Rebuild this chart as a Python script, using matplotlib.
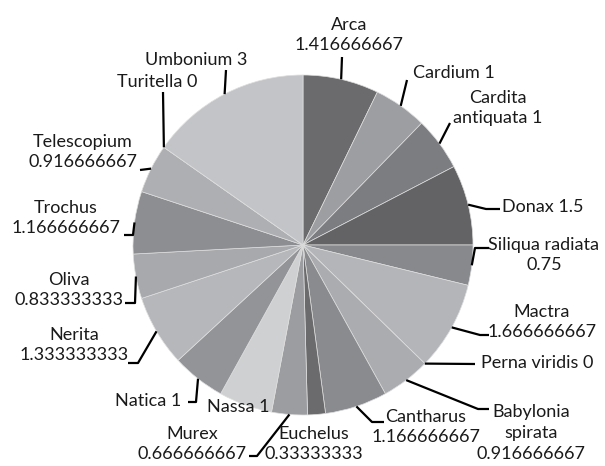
import numpy as np
import matplotlib.pyplot as plt

plt.rcParams['font.family'] = ['Lato', 'DejaVu Sans']

# data
names = ['Arca', 'Cardium', 'Cardita antiquata', 'Donax', 'Siliqua radiata',
         'Mactra', 'Perna viridis', 'Babylonia spirata', 'Cantharus',
         'Euchelus', 'Murex', 'Nassa', 'Natica', 'Nerita', 'Oliva',
         'Trochus', 'Telescopium', 'Turitella', 'Umbonium']
values = [1.416666667, 1, 1, 1.5, 0.75,
          1.666666667, 0, 0.916666667, 1.166666667,
          0.33333333, 0.666666667, 1, 1, 1.333333333, 0.833333333,
          1.166666667, 0.916666667, 0, 3]
colors = ['#6b6b6e', '#9d9ea1', '#7c7d80', '#636366', '#88898c',
          '#b4b5b8', '#a0a1a4', '#abacaf', '#8a8b8e',
          '#6b6b6e', '#9c9da0', '#cfd0d2', '#939497', '#b6b7ba', '#a8a9ac',
          '#8d8e91', '#aeafb2', '#a0a1a4', '#c3c4c7']

# label layout (pixel coords of the 605x466 picture)
label_pos = [(349, 35), (454, 73), (498, 108), (543, 207), (544, 255),
             (542, 322), (537, 363), (531, 433), (426, 427),
             (314, 444), (192, 444), (238, 407), (148, 401), (74, 345), (69, 290),
             (66, 218), (83, 152), (157, 82), (196, 60)]
# 'nl' name/newline/value, 'sp' name value, 'wrap' broken name
label_fmt = ['nl', 'sp', 'wrap', 'sp', 'nl',
             'nl', 'sp', 'wrapnl', 'nl',
             'nl', 'nl', 'sp', 'sp', 'nl', 'nl',
             'nl', 'nl', 'sp', 'sp']
leaders = [[(342, 57)], [(407, 80)], [(450, 123)], [(486, 209), (500, 209)],
           [(475, 248), (489, 248)],
           [(480, 335), (489, 335)], [(475, 364)], [(478, 409), (489, 409)],
           [(372, 422), (384, 422)],
           None, [(257, 456), (249, 456)], None, [(196, 402), (188, 402)],
           [(138, 363), (128, 363)], [(135, 303), (125, 303)],
           [(133, 235), (124, 235)], [(140, 170)], [(163, 92)], [(226, 70)]]

W, H = 605, 466
fig = plt.figure(figsize=(W / 100, H / 100), dpi=100)
ax = fig.add_axes([0, 0, 1, 1])


def px(x, y):
    return x, H - y


wedges, _ = ax.pie(values, colors=colors, startangle=90, counterclock=False,
                   center=px(303, 245), radius=170, frame=True,
                   wedgeprops=dict(edgecolor='#dedede', linewidth=0.5))
ax.set_xlim(0, W)
ax.set_ylim(0, H)
ax.set_aspect('equal')
ax.axis('off')

for w, n, v, pos, fmt, pts in zip(wedges, names, values, label_pos, label_fmt, leaders):
    vs = f'{v:.10g}'
    if fmt == 'nl':
        s = n + '\n' + vs
    elif fmt == 'sp':
        s = n + ' ' + vs
    elif fmt == 'wrap':
        s = n.replace(' ', '\n', 1) + ' ' + vs
    else:
        s = n.replace(' ', '\n') + '\n' + vs
    ax.text(*px(*pos), s, ha='center', va='center', fontsize=13,
            linespacing=1.35, color='#1a1a1a')
    if pts is None:
        continue
    t = np.deg2rad((w.theta1 + w.theta2) / 2)
    x0 = w.center[0] + w.r * np.cos(t)
    y0 = w.center[1] + w.r * np.sin(t)
    xs = [x0] + [p[0] for p in pts]
    ys = [y0] + [H - p[1] for p in pts]
    ax.plot(xs, ys, color='black', lw=1.6, solid_capstyle='butt')

fig.savefig('out.png', dpi=100)
